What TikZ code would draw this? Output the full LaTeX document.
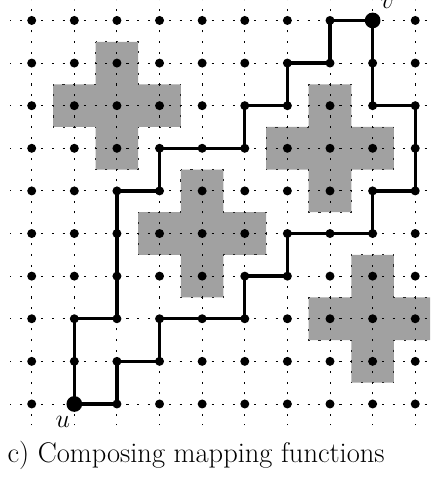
\documentclass[tikz,border=0pt]{standalone}
\tikzset{
  gridline/.style={line width=0.6pt, dash pattern=on 1.4pt off 5.71pt, dash phase=0.7pt},
  obstacle/.style={fill=black!37, draw=black!85, line width=0.6pt, dash pattern=on 1.4pt off 5.71pt, dash phase=0.7pt},
  route/.style={line width=2.2pt, line join=miter},
  endpt/.style={circle, fill, inner sep=0pt, minimum size=10.5pt},
}
\begin{document}
\begin{tikzpicture}[x=1cm, y=1cm, font=\fontsize{19pt}{23pt}\selectfont]
  \useasboundingbox (-0.744,-1.737) rectangle (9.35,9.48);
  \clip (-0.744,-1.737) rectangle (9.35,9.48);
  % obstacles
  \foreach \c in {(2,7),(7,6),(4,4),(8,2)}
    \draw[obstacle, shift={\c}] (-0.5,1.5) -- (0.5,1.5) -- (0.5,0.5) -- (1.5,0.5) -- (1.5,-0.5)
      -- (0.5,-0.5) -- (0.5,-1.5) -- (-0.5,-1.5) -- (-0.5,-0.5) -- (-1.5,-0.5) -- (-1.5,0.5)
      -- (-0.5,0.5) -- cycle;
  % grid
  \foreach \i in {0,...,9} {
    \draw[gridline] (\i,-0.5) -- (\i,9.5);
    \draw[gridline] (-0.5,\i) -- (9.5,\i);
  }
  \foreach \i in {0,...,9}
    \foreach \j in {0,...,9} {
      \coordinate (g\i\j) at (\i,\j);
      \fill (g\i\j) circle (3pt);
    }
  % the two routes from u to v
  \draw[route] (g10) -- (g20) -- (g21) -- (g31) -- (g32) -- (g42) -- (g52) -- (g53) -- (g63)
    -- (g64) -- (g74) -- (g84) -- (g85) -- (g95) -- (g96) -- (g97) -- (g87) -- (g88) -- (g89);
  \draw[route] (g10) -- (g11) -- (g12) -- (g22) -- (g23) -- (g24) -- (g25) -- (g35) -- (g36)
    -- (g46) -- (g56) -- (g57) -- (g67) -- (g68) -- (g78) -- (g79) -- (g89);
  \node[endpt] (u) at (g10) {};
  \node[endpt] (v) at (g89) {};
  \node (ulabel) at (0.73,-0.42) {$u$};
  \node (vlabel) at (8.35,9.40) {$v$};
  \node[anchor=base west, inner sep=0pt] (caption) at (-0.573,-1.385) {c) Composing mapping functions};
\end{tikzpicture}
\end{document}
